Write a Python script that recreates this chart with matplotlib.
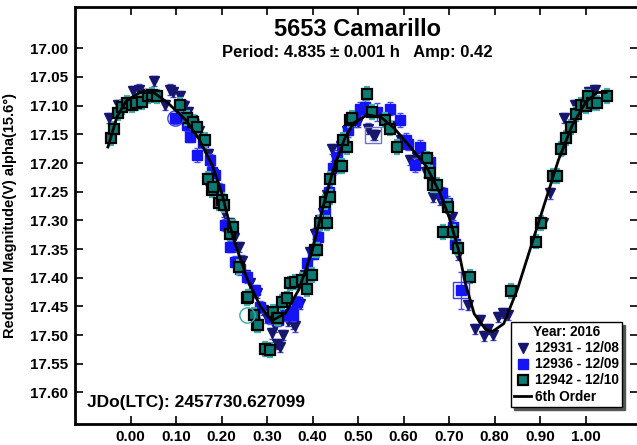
import numpy as np
import matplotlib
matplotlib.use("Agg")
import matplotlib.pyplot as plt
from matplotlib.lines import Line2D

plt.rcParams['font.family'] = ['Liberation Sans', 'DejaVu Sans']
plt.rcParams['font.weight'] = 'bold'

# 12931 - 12/08 (triangulos)
fase_a = [-0.047, -0.027, -0.010, 0.006, 0.019, 0.030, 0.051, 0.075, 0.086, 0.094,
          0.108, 0.118, 0.127, 0.135, 0.150, 0.160, 0.170, 0.180, 0.190, 0.198,
          0.205, 0.215, 0.228, 0.237, 0.245, 0.251, 0.262, 0.270, 0.277, 0.291,
          0.300, 0.310, 0.318, 0.321, 0.328, 0.335, 0.345, 0.357, 0.361, 0.372,
          0.383, 0.394, 0.405, 0.415, 0.423, 0.432, 0.442, 0.452, 0.462, 0.475,
          0.500, 0.522, 0.533, 0.537, 0.555, 0.575, 0.595, 0.614, 0.630, 0.650,
          0.665, 0.680, 0.706, 0.720, 0.742, 0.757, 0.768, 0.776, 0.786, 0.796,
          0.808, 0.819, 0.830, 0.907, 0.922, 0.945, 0.952, 0.977, 1.008, 1.013,
          1.020]
mag_a = [17.122, 17.099, 17.095, 17.074, 17.072, 17.080, 17.057, 17.099, 17.072, 17.076,
         17.083, 17.100, 17.111, 17.125, 17.145, 17.165, 17.185, 17.220, 17.245, 17.265,
         17.285, 17.305, 17.330, 17.346, 17.370, 17.395, 17.410, 17.425, 17.427, 17.456,
         17.470, 17.497, 17.485, 17.515, 17.520, 17.500, 17.475, 17.480, 17.485, 17.445,
         17.395, 17.355, 17.323, 17.300, 17.288, 17.255, 17.175, 17.195, 17.170, 17.145,
         17.128, 17.140, 17.151, 17.151, 17.122, 17.135, 17.160, 17.195, 17.190, 17.215,
         17.259, 17.265, 17.294, 17.360, 17.448, 17.489, 17.474, 17.502, 17.489, 17.500,
         17.468, 17.462, 17.465, 17.305, 17.253, 17.177, 17.122, 17.099, 17.076, 17.079,
         17.073]

# 12936 - 12/09 (quadrados azuis)
fase_b = [0.097, 0.123, 0.130, 0.145, 0.160, 0.174, 0.178, 0.185, 0.195, 0.207,
          0.218, 0.229, 0.240, 0.255, 0.273, 0.284, 0.306, 0.324, 0.340, 0.354,
          0.357, 0.365, 0.387, 0.401, 0.412, 0.427, 0.435, 0.445, 0.453, 0.464,
          0.478, 0.493, 0.505, 0.515, 0.541, 0.570, 0.592, 0.606, 0.610, 0.625,
          0.636, 0.658, 0.684, 0.695, 0.709, 0.713, 0.725]
mag_b = [17.122, 17.134, 17.154, 17.186, 17.163, 17.195, 17.215, 17.221, 17.245, 17.308,
         17.346, 17.372, 17.385, 17.399, 17.422, 17.451, 17.468, 17.474, 17.465, 17.459,
         17.465, 17.442, 17.375, 17.358, 17.329, 17.288, 17.250, 17.209, 17.189, 17.169,
         17.143, 17.125, 17.105, 17.102, 17.111, 17.105, 17.125, 17.160, 17.166, 17.204,
         17.172, 17.198, 17.253, 17.270, 17.311, 17.342, 17.422]
erro_b = [0.010, 0.010, 0.010, 0.012, 0.010, 0.010, 0.010, 0.010, 0.010, 0.010,
          0.010, 0.010, 0.010, 0.010, 0.010, 0.010, 0.012, 0.010, 0.010, 0.010,
          0.010, 0.010, 0.010, 0.010, 0.010, 0.010, 0.010, 0.012, 0.012, 0.012,
          0.012, 0.012, 0.012, 0.012, 0.015, 0.012, 0.012, 0.012, 0.012, 0.012,
          0.012, 0.012, 0.012, 0.012, 0.012, 0.012, 0.032]

# 12942 - 12/10 (quadrados verdes)
fase_c = [-0.044, -0.037, -0.027, -0.020, -0.009, 0.002, 0.012, 0.024, 0.039, 0.046,
          0.057, 0.108, 0.123, 0.138, 0.145, 0.163, 0.171, 0.178, 0.182, 0.193,
          0.200, 0.204, 0.218, 0.225, 0.237, 0.255, 0.258, 0.270, 0.277, 0.280,
          0.295, 0.306, 0.313, 0.321, 0.324, 0.332, 0.343, 0.350, 0.361, 0.376,
          0.387, 0.398, 0.405, 0.409, 0.416, 0.427, 0.431, 0.438, 0.438, 0.460,
          0.464, 0.475, 0.467, 0.482, 0.486, 0.519, 0.530, 0.559, 0.570, 0.585,
          0.651, 0.658, 0.665, 0.673, 0.687, 0.698, 0.709, 0.720, 0.746, 0.835,
          0.891, 0.901, 0.929, 0.938, 0.946, 0.957, 0.968, 0.979, 0.990, 1.001,
          1.006, 1.013, 1.024, 1.046]
mag_c = [17.157, 17.140, 17.113, 17.102, 17.096, 17.099, 17.095, 17.093, 17.084, 17.081,
         17.084, 17.099, 17.122, 17.128, 17.137, 17.160, 17.227, 17.247, 17.241, 17.270,
         17.265, 17.273, 17.323, 17.311, 17.381, 17.436, 17.433, 17.465, 17.483, 17.483,
         17.524, 17.526, 17.459, 17.471, 17.471, 17.442, 17.436, 17.410, 17.407, 17.404,
         17.419, 17.395, 17.352, 17.352, 17.305, 17.268, 17.305, 17.259, 17.227, 17.206,
         17.205, 17.172, 17.160, 17.125, 17.122, 17.079, 17.111, 17.125, 17.140, 17.172,
         17.192, 17.218, 17.238, 17.238, 17.320, 17.276, 17.320, 17.349, 17.398, 17.423,
         17.337, 17.304, 17.223, 17.223, 17.176, 17.157, 17.137, 17.114, 17.099, 17.101,
         17.084, 17.096, 17.095, 17.083]

# pontos marcados (vazados)
vazado_circ = [(0.097, 17.122, '#3a3aff'), (0.255, 17.465, '#3aa8a8')]
vazado_quad = [(0.533, 17.151, '#7070d0'), (0.725, 17.422, '#3a3aff')]

# curva de Fourier (6a ordem)
fase_fit = [-0.050, -0.030, -0.010, 0.020, 0.050, 0.080, 0.120, 0.150, 0.180, 0.200,
            0.225, 0.255, 0.285, 0.310, 0.340, 0.370, 0.400, 0.420, 0.445, 0.470,
            0.490, 0.520, 0.550, 0.580, 0.610, 0.650, 0.680, 0.700, 0.720, 0.735,
            0.755, 0.780, 0.795, 0.820, 0.850, 0.880, 0.910, 0.940, 0.970, 1.000,
            1.025, 1.045]
mag_fit = [17.172, 17.119, 17.092, 17.077, 17.077, 17.094, 17.124, 17.158, 17.205, 17.252,
           17.330, 17.400, 17.450, 17.475, 17.462, 17.420, 17.350, 17.285, 17.212, 17.158,
           17.130, 17.116, 17.120, 17.140, 17.168, 17.206, 17.253, 17.295, 17.350, 17.408,
           17.463, 17.490, 17.494, 17.480, 17.420, 17.345, 17.270, 17.195, 17.135, 17.094,
           17.077, 17.077]

rotulos = ['12931 - 12/08', '12936 - 12/09', '12942 - 12/10', '6th Order']

cor_a = '#16166e'
cor_b = '#1414f5'
cor_c = '#0b7c74'

fig = plt.figure(figsize=(6.37, 4.45), dpi=100)
ax = fig.add_axes([75 / 637, 21 / 445, 563 / 637, 417 / 445])

ax.errorbar(fase_a, mag_a, yerr=0.009, fmt='v', color=cor_a, ms=6.5, mec=cor_a,
            ecolor='#4a4ac8', elinewidth=1, capsize=2.5, zorder=2)
ax.errorbar(fase_b, mag_b, yerr=erro_b, fmt='s', color=cor_b, ms=6.5, mec=cor_b,
            ecolor='#4a4aff', elinewidth=1, capsize=2.5, zorder=3)
ax.errorbar(fase_c, mag_c, yerr=0.012, fmt='s', color=cor_c, ms=6.5, mec='black', mew=1.6,
            ecolor='#40b0b0', elinewidth=1, capsize=2.5, zorder=4)

for f, m, c in vazado_circ:
    ax.plot(f, m, 'o', ms=11, mfc='none', mec=c, mew=1, zorder=5)
for f, m, c in vazado_quad:
    ax.plot(f, m, 's', ms=11, mfc='none', mec=c, mew=1, zorder=5)

ax.plot(fase_fit, mag_fit, color='black', lw=2, zorder=6)

ax.set_xlim(-0.1224, 1.1150)
ax.set_ylim(17.655, 16.928)
ax.set_xticks(np.arange(0, 1.01, 0.1))
ax.set_yticks(np.arange(17.0, 17.601, 0.05))
ax.xaxis.set_major_formatter(plt.FormatStrFormatter('%.2f'))
ax.yaxis.set_major_formatter(plt.FormatStrFormatter('%.2f'))
ax.tick_params(direction='in', length=6, width=1.2, top=True, right=True,
               labelsize=11)
ax.tick_params(axis='x', pad=4)
ax.tick_params(axis='y', pad=5)
for lab in ax.get_xticklabels() + ax.get_yticklabels():
    lab.set_fontweight('bold')
for s in ax.spines.values():
    s.set_linewidth(2)

ax.set_ylabel('Reduced Magnitude(V) alpha(15.6°)', fontsize=10.5, fontweight='bold')
ax.yaxis.set_label_coords(-0.103, 0.5)

fig.text(357 / 637, 1 - 30 / 445, '5653 Camarillo', ha='center', va='center',
         fontsize=17, fontweight='bold')
fig.text(357 / 637, 1 - 53 / 445, 'Period: 4.835 ± 0.001 h   Amp: 0.42', ha='center',
         va='center', fontsize=12, fontweight='bold')
ax.text(0.022, 0.052, 'JDo(LTC): 2457730.627099', transform=ax.transAxes,
        fontsize=12.5, fontweight='bold', ha='left', va='center')

alcas = [Line2D([], [], ls='none', marker='v', color=cor_a, ms=7),
         Line2D([], [], ls='none', marker='s', color=cor_b, ms=7),
         Line2D([], [], ls='none', marker='s', color=cor_c, mec='black', mew=1.6, ms=7),
         Line2D([], [], color='black', lw=2)]
leg = ax.legend(alcas, rotulos, title='Year: 2016', loc='lower right',
                bbox_to_anchor=(0.972, 0.041), borderaxespad=0, fancybox=False,
                shadow={'color': '#555555', 'alpha': 1}, edgecolor='black',
                framealpha=1, fontsize=9.8, title_fontsize=9.8, handlelength=1.2,
                handletextpad=0.3, borderpad=0.25, labelspacing=0.15)
leg.get_title().set_fontweight('bold')
for t in leg.get_texts():
    t.set_fontweight('bold')
leg.get_frame().set_linewidth(1)

plt.savefig('out.png', dpi=100)
